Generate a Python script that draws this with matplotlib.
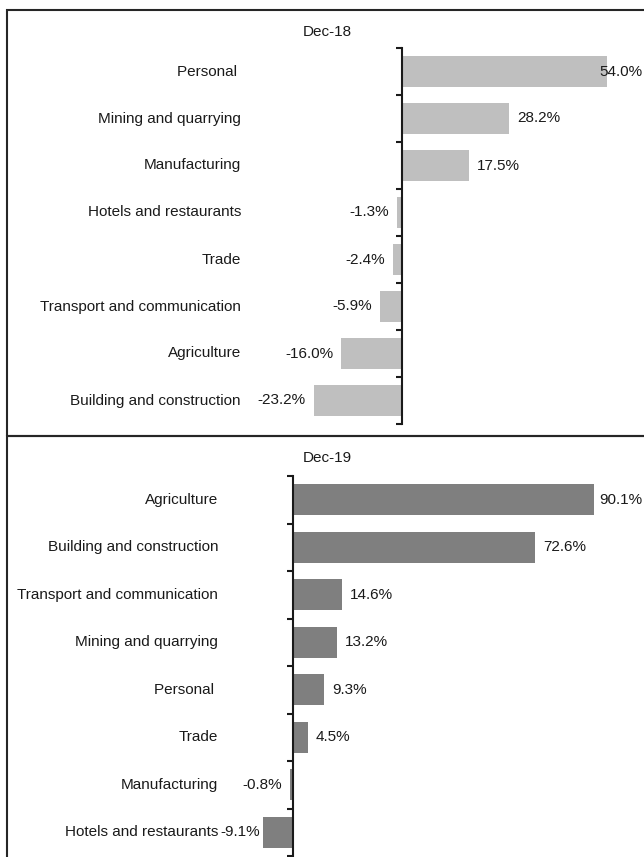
import matplotlib
matplotlib.use("Agg")
import matplotlib.pyplot as plt
from matplotlib.patches import Rectangle

plt.rcParams['font.family'] = ['Liberation Sans', 'DejaVu Sans']

# ---- data ----
cats_18 = ["Personal ", "Mining and quarrying", "Manufacturing", "Hotels and restaurants",
           "Trade", "Transport and communication", "Agriculture", "Building and construction"]
vals_18 = [54.0, 28.2, 17.5, -1.3, -2.4, -5.9, -16.0, -23.2]

cats_19 = ["Agriculture", "Building and construction", "Transport and communication",
           "Mining and quarrying", "Personal ", "Trade", "Manufacturing", "Hotels and restaurants"]
vals_19 = [90.1, 72.6, 14.6, 13.2, 9.3, 4.5, -0.8, -9.1]

titles = ["Dec-18", "Dec-19"]

W, H = 644, 857
DPI = 100
FS = 11
fig = plt.figure(figsize=(W / DPI, H / DPI), dpi=DPI)
TXT = '#1a1a1a'


def fx(px):
    return px / W


def fy(py):
    return 1 - py / H


# panel borders
for (x0, y0, x1, y1) in [(7, 10, 652, 436), (7, 436, 652, 870)]:
    fig.patches.append(Rectangle((fx(x0), fy(y1)), fx(x1 - x0), (y1 - y0) / H,
                                 transform=fig.transFigure, fill=False,
                                 edgecolor='#262626', linewidth=1.5, zorder=0))

panels = [
    dict(cats=cats_18, vals=vals_18, title=titles[0], color='#bfbfbf', scale=3.8,
         left=243, right=642, top=48, bottom=424, zero=402, title_y=32),
    dict(cats=cats_19, vals=vals_19, title=titles[1], color='#7f7f7f', scale=3.34,
         left=220, right=642, top=476, bottom=856, zero=293, title_y=458),
]

fig.canvas.draw()
renderer = fig.canvas.get_renderer()

for p in panels:
    ax = fig.add_axes([fx(p['left']), fy(p['bottom']), fx(p['right'] - p['left']),
                       (p['bottom'] - p['top']) / H])
    scale = p['scale']
    xmin = -(p['zero'] - p['left']) / scale
    xmax = (p['right'] - p['zero']) / scale
    n = len(p['cats'])
    ypos = list(range(n))
    ax.barh(ypos, p['vals'], height=0.66, color=p['color'], zorder=2)
    ax.set_xlim(xmin, xmax)
    ax.set_ylim(n - 0.5, -0.5)
    for s in ['top', 'right', 'bottom']:
        ax.spines[s].set_visible(False)
    ax.spines['left'].set_position(('data', 0))
    ax.spines['left'].set_color('#1a1a1a')
    ax.spines['left'].set_linewidth(1.5)
    ax.spines['left'].set_zorder(3)
    ax.set_xticks([])
    ax.set_yticks([k - 0.5 for k in range(n + 1)])
    ax.set_yticklabels([])
    ax.tick_params(axis='y', direction='out', length=4, width=1.5, color='#1a1a1a')
    ax.patch.set_visible(False)

    fig.text(fx(327), fy(p['title_y']), p['title'], ha='center', va='center',
             fontsize=FS, color=TXT)

    span = p['right'] - p['left']
    # category labels, right-aligned at plot-area left, clamped to stay in the chart
    for i, c in enumerate(p['cats']):
        t = ax.text(-2 / span, i, c, transform=ax.get_yaxis_transform(),
                    ha='right', va='center', fontsize=FS, color=TXT)
        bb = t.get_window_extent(renderer)
        if bb.x0 < 13:
            t.set_ha('left')
            t.set_x((13 - p['left']) / span)

    # value labels
    for i, v in enumerate(p['vals']):
        lab = f"{v:.1f}%"
        end_px = p['zero'] + v * scale
        t = ax.text(0, i, lab, ha='left', va='center', fontsize=FS, color=TXT, zorder=4,
                    transform=ax.get_yaxis_transform())
        w = t.get_window_extent(renderer).width
        if v >= 0:
            x_left = min(end_px + 8, p['right'] - w)
        else:
            x_left = max(end_px - 8 - w, p['left'])
        t.set_x((x_left - p['left']) / span)

fig.savefig("out.png", dpi=DPI)
